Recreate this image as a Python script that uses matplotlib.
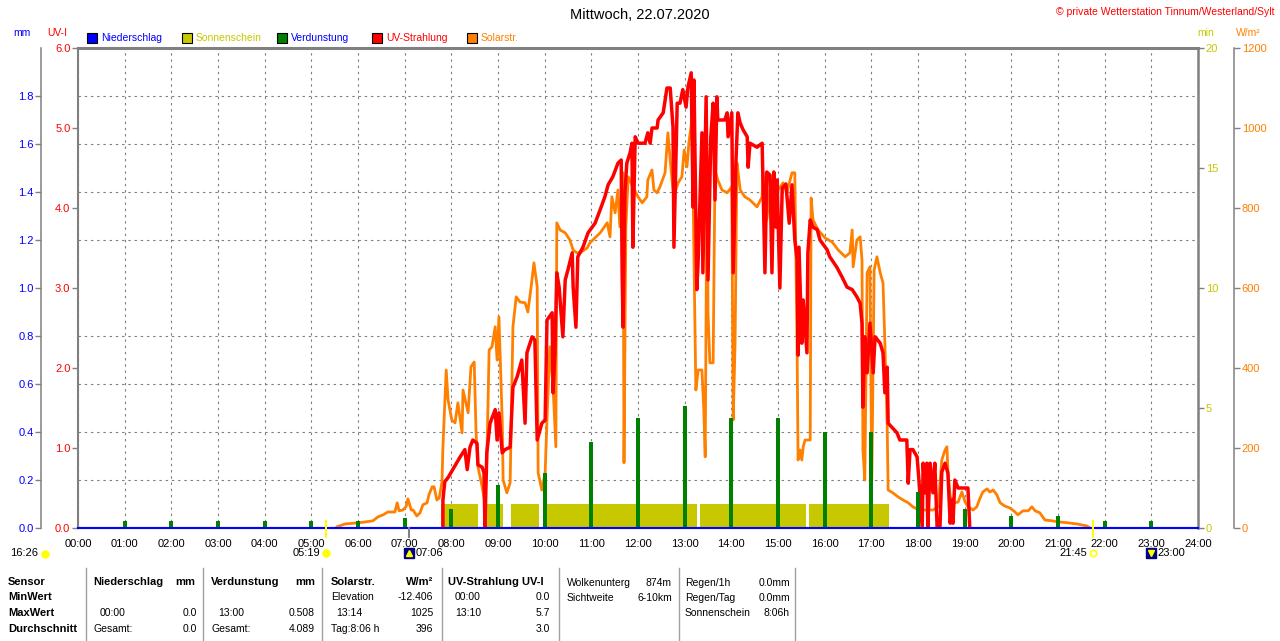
import numpy as np
import matplotlib
matplotlib.use("Agg")
import matplotlib.pyplot as plt
from matplotlib.patches import Rectangle
from matplotlib.lines import Line2D
from matplotlib.ticker import FixedLocator, FormatStrFormatter
from matplotlib.transforms import blended_transform_factory

plt.rcParams['font.family'] = ['Liberation Sans', 'DejaVu Sans']

# ---- Werte (Mittwoch, 22.07.2020) ----
HOURS = list(range(0, 25))
HOUR_LABELS = ["{0:02d}:00".format(h) for h in HOURS]

# Niederschlag in mm (ganzer Tag trocken)
rain_h = HOURS
rain_mm = [0.0, 0.0, 0.0, 0.0, 0.0, 0.0, 0.0, 0.0, 0.0, 0.0, 0.0, 0.0, 0.0,
           0.0, 0.0, 0.0, 0.0, 0.0, 0.0, 0.0, 0.0, 0.0, 0.0, 0.0, 0.0]

# Verdunstung in mm, je volle Stunde
evap_h = [1, 2, 3, 4, 5, 6, 7, 8, 9, 10, 11, 12, 13, 14, 15, 16, 17, 18, 19, 20, 21, 22, 23]
evap_mm = [0.03, 0.03, 0.03, 0.03, 0.03, 0.03, 0.04, 0.08, 0.18, 0.23, 0.36, 0.46,
           0.508, 0.46, 0.46, 0.40, 0.40, 0.15, 0.08, 0.05, 0.05, 0.03, 0.03]

# Sonnenschein (min pro min), Abschnitte in Stunden
sun_start = [7.78, 8.76, 9.28, 10.05, 13.33, 15.66]
sun_end = [8.57, 9.11, 9.88, 13.26, 15.60, 17.38]
sun_min = [1.0, 1.0, 1.0, 1.0, 1.0, 1.0]

# Solarstrahlung W/m2
solar_h = [5.53, 5.55, 5.72, 6.00, 6.15, 6.32, 6.43, 6.54, 6.64, 6.79, 6.84, 6.88, 6.96,
           7.03, 7.07, 7.14, 7.18, 7.26, 7.33, 7.39, 7.48, 7.52, 7.59, 7.63, 7.69, 7.74,
           7.80, 7.82, 7.89, 7.93, 8.01, 8.08, 8.14, 8.23, 8.25, 8.36, 8.42, 8.49, 8.53,
           8.57, 8.66, 8.72, 8.76, 8.81, 8.87, 8.94, 8.98, 9.02, 9.09, 9.11, 9.19, 9.26,
           9.32, 9.39, 9.47, 9.58, 9.64, 9.71, 9.77, 9.84, 9.86, 9.94, 10.01, 10.05, 10.11,
           10.18, 10.24, 10.26, 10.33, 10.44, 10.54, 10.61, 10.69, 10.76, 10.91, 10.97,
           11.19, 11.34, 11.40, 11.44, 11.51, 11.57, 11.61, 11.68, 11.70, 11.74, 11.79,
           11.89, 12.00, 12.09, 12.19, 12.21, 12.30, 12.34, 12.41, 12.47, 12.58, 12.64,
           12.69, 12.75, 12.79, 12.86, 12.94, 12.99, 13.05, 13.09, 13.12, 13.16, 13.20,
           13.24, 13.29, 13.37, 13.41, 13.44, 13.48, 13.50, 13.54, 13.61, 13.63, 13.65,
           13.71, 13.80, 13.91, 14.01, 14.04, 14.08, 14.12, 14.14, 14.19, 14.29, 14.40,
           14.55, 14.66, 14.68, 14.76, 14.83, 14.87, 14.94, 15.00, 15.11, 15.19, 15.30,
           15.36, 15.41, 15.43, 15.47, 15.51, 15.54, 15.58, 15.69, 15.71, 15.75, 15.86,
           16.01, 16.16, 16.29, 16.44, 16.54, 16.59, 16.61, 16.69, 16.76, 16.80, 16.82,
           16.86, 16.91, 16.97, 17.01, 17.06, 17.12, 17.19, 17.25, 17.29, 17.34, 17.36,
           17.46, 17.57, 17.68, 17.79, 17.89, 18.02, 18.19, 18.32, 18.43, 18.51, 18.58,
           18.62, 18.64, 18.69, 18.79, 18.86, 18.94, 19.01, 19.07, 19.18, 19.26, 19.33,
           19.39, 19.48, 19.54, 19.61, 19.69, 19.76, 19.86, 19.97, 20.08, 20.14, 20.25,
           20.36, 20.44, 20.51, 20.61, 20.72, 20.87, 21.04, 21.21, 21.41, 21.62, 21.69]
solar_w = [0, 3, 10, 13, 15, 18, 28, 33, 40, 40, 63, 43, 45,
           53, 73, 45, 45, 30, 38, 58, 63, 83, 103, 103, 70, 75,
           115, 203, 395, 320, 270, 263, 313, 238, 345, 288, 403, 415, 238,
           153, 103, 63, 170, 445, 453, 503, 420, 528, 270, 120, 88, 113,
           503, 578, 565, 563, 540, 603, 663, 603, 138, 95, 138, 270, 453,
           353, 203, 763, 745, 738, 720, 695, 688, 688, 700, 713,
           738, 763, 728, 828, 788, 845, 753, 888, 163, 753, 878,
           853, 828, 813, 828, 870, 895, 845, 838, 853, 888, 988,
           920, 845, 838, 863, 878, 945, 903, 963, 990, 1025, 670,
           345, 395, 395, 295, 178, 928, 538, 413, 413, 653, 895,
           870, 845, 838, 853, 270, 463, 913, 895, 845, 828, 820,
           803, 828, 888, 770, 845, 838, 753, 845, 863, 838, 888,
           888, 438, 170, 195, 170, 203, 220, 220, 825, 770, 745,
           725, 715, 695, 678, 688, 745, 653, 720, 728, 670, 195,
           120, 638, 653, 120, 645, 678, 638, 613, 463, 253, 95,
           88, 78, 70, 63, 53, 45, 45, 45, 53, 170, 195,
           203, 145, 78, 63, 65, 90, 65, 53, 45, 53, 75,
           90, 98, 90, 95, 83, 63, 55, 50, 40, 33, 43,
           43, 53, 43, 38, 20, 18, 15, 13, 10, 5, 0]

# UV-Strahlung UV-I
uv_h = [7.82, 7.82, 7.86, 7.93, 8.01, 8.08, 8.19, 8.29, 8.34, 8.40, 8.46, 8.55, 8.57,
        8.66, 8.70, 8.72, 8.76, 8.83, 8.94, 8.98, 9.02, 9.09, 9.15, 9.26, 9.32, 9.41,
        9.51, 9.58, 9.62, 9.73, 9.79, 9.84, 9.94, 10.01, 10.05, 10.16, 10.18, 10.22,
        10.26, 10.31, 10.39, 10.44, 10.50, 10.59, 10.61, 10.67, 10.71, 10.82, 10.93,
        11.08, 11.19, 11.29, 11.36, 11.46, 11.57, 11.64, 11.66, 11.68, 11.72, 11.76,
        11.83, 11.87, 11.89, 11.94, 12.00, 12.15, 12.21, 12.26, 12.30, 12.41, 12.43,
        12.54, 12.62, 12.69, 12.75, 12.77, 12.84, 12.90, 12.96, 13.03, 13.07, 13.14,
        13.18, 13.20, 13.26, 13.29, 13.37, 13.39, 13.46, 13.50, 13.56, 13.61, 13.65,
        13.69, 13.71, 13.86, 13.91, 13.93, 14.01, 14.04, 14.10, 14.14, 14.19, 14.25,
        14.34, 14.36, 14.40, 14.55, 14.66, 14.72, 14.76, 14.83, 14.87, 14.91, 14.96,
        14.98, 15.04, 15.09, 15.17, 15.24, 15.30, 15.36, 15.41, 15.43, 15.45, 15.51,
        15.54, 15.62, 15.64, 15.69, 15.75, 15.84, 15.90, 16.05, 16.11, 16.26, 16.37,
        16.48, 16.59, 16.69, 16.76, 16.80, 16.82, 16.86, 16.91, 16.97, 17.04, 17.08,
        17.19, 17.25, 17.29, 17.34, 17.36, 17.44, 17.55, 17.61, 17.76, 17.79, 17.83,
        17.89, 17.98, 18.02, 18.09, 18.11, 18.15, 18.19, 18.21, 18.26, 18.32, 18.36,
        18.41, 18.47, 18.51, 18.58, 18.64, 18.69, 18.73, 18.75, 18.79, 18.86, 19.07, 19.11]
uv_i = [0.0, 0.35, 0.58, 0.63, 0.71, 0.78, 0.89, 0.98, 0.73, 1.01, 1.10, 1.06, 0.79,
        0.76, 0.69, 0.0, 0.94, 1.31, 1.48, 1.10, 1.44, 0.94, 0.98, 1.01, 1.76, 1.89,
        2.10, 1.31, 2.19, 2.39, 2.35, 1.10, 1.31, 1.35, 2.60, 2.69, 1.69, 2.19,
        3.19, 3.01, 2.39, 3.10, 3.23, 3.44, 3.01, 2.51, 3.39, 3.51, 3.69,
        3.81, 3.98, 4.14, 4.29, 4.39, 4.56, 4.60, 3.19, 2.51, 4.19, 4.56,
        4.69, 4.81, 3.51, 4.89, 4.81, 4.81, 4.94, 4.81, 5.00, 5.00, 5.10,
        5.19, 5.50, 5.50, 5.01, 3.51, 5.31, 5.31, 5.48, 5.26, 5.51, 5.69,
        4.01, 5.60, 2.98, 3.35, 4.94, 3.19, 5.39, 3.10, 4.89, 5.31, 4.10,
        5.39, 5.10, 5.10, 5.19, 4.89, 5.19, 3.19, 4.60, 5.19, 5.06, 4.98,
        4.89, 4.51, 4.81, 4.76, 4.81, 3.19, 4.45, 4.41, 3.19, 4.45, 3.76,
        4.35, 3.00, 4.25, 4.30, 3.81, 4.29, 3.60, 3.35, 2.16, 3.51, 2.31,
        2.85, 2.19, 3.44, 3.85, 3.76, 3.73, 3.60, 3.48, 3.39, 3.26, 3.14,
        3.01, 2.98, 2.89, 2.81, 2.56, 1.51, 2.39, 1.94, 2.56, 1.94, 2.39,
        2.31, 2.19, 1.69, 2.01, 1.31, 1.26, 1.19, 1.10, 1.10, 0.56, 0.98,
        0.98, 0.89, 0.60, 0.0, 0.81, 0.44, 0.81, 0.0, 0.81, 0.44, 0.81,
        0.0, 0.0, 0.70, 0.81, 0.69, 0.06, 0.35, 0.06, 0.60, 0.50, 0.50, 0.0]

# Sonne / Mond (Stunden) und Tageslaenge
sunrise, sunset = 5 + 19 / 60, 21 + 45 / 60
moonrise, moonset = 7 + 6 / 60, 23.0
day_length = "16:26"

# Tabelle unten
table_cells = [
    (8, 582, "Sensor", 'left', True), (8, 597, "MinWert", 'left', True),
    (8, 613, "MaxWert", 'left', True), (8, 629, "Durchschnitt", 'left', True),
    (93, 582, "Niederschlag", 'left', True), (195, 582, "mm", 'right', True),
    (211, 582, "Verdunstung", 'left', True), (315, 582, "mm", 'right', True),
    (331, 582, "Solarstr.", 'left', True), (433, 582, "W/m²", 'right', True),
    (448, 582, "UV-Strahlung UV-I", 'left', True),
    (331, 597, "Elevation", 'left', False), (433, 597, "-12.406", 'right', False),
    (455, 597, "00:00", 'left', False), (550, 597, "0.0", 'right', False),
    (100, 613, "00:00", 'left', False), (197, 613, "0.0", 'right', False),
    (218, 613, "13:00", 'left', False), (315, 613, "0.508", 'right', False),
    (336, 613, "13:14", 'left', False), (433, 613, "1025", 'right', False),
    (455, 613, "13:10", 'left', False), (550, 613, "5.7", 'right', False),
    (94, 629, "Gesamt:", 'left', False), (197, 629, "0.0", 'right', False),
    (212, 629, "Gesamt:", 'left', False), (315, 629, "4.089", 'right', False),
    (331, 629, "Tag:8:06 h", 'left', False), (433, 629, "396", 'right', False),
    (550, 629, "3.0", 'right', False),
    (567, 583, "Wolkenunterg", 'left', False), (672, 583, "874m", 'right', False),
    (567, 598, "Sichtweite", 'left', False), (672, 598, "6-10km", 'right', False),
    (685, 583, "Regen/1h", 'left', False), (790, 583, "0.0mm", 'right', False),
    (685, 598, "Regen/Tag", 'left', False), (790, 598, "0.0mm", 'right', False),
    (685, 613, "Sonnenschein", 'left', False), (790, 613, "8:06h", 'right', False),
]
table_seps = [86, 203, 322, 442, 559, 679, 795]

BLUE, YELLOW, GREEN, RED, ORANGE = '#0000FF', '#C8C800', '#008000', '#FF0000', '#FF8000'
GRAY = '#808080'
legend_items = [("Niederschlag", BLUE, BLUE, 87), ("Sonnenschein", YELLOW, YELLOW, 182),
                ("Verdunstung", GREEN, BLUE, 277), ("UV-Strahlung", RED, RED, 372),
                ("Solarstr.", ORANGE, ORANGE, 467)]

W, H = 1280, 641


def fx(x):
    return x / W


def fy(y):
    return 1 - y / H


def hhmm(t):
    return "{0:02d}:{1:02d}".format(int(t), int(round(t % 1 * 60)))


fig = plt.figure(figsize=(W / 100, H / 100), dpi=100, facecolor='white')
ax = fig.add_axes([fx(78), fy(528), 1120 / W, 480 / H])
ax.set_xlim(0, 24)

# Sonnenschein auf der min-Achse (unterste Ebene, traegt das Gitter)
ax.set_ylim(0, 20)
ax.bar(sun_start, sun_min, width=np.subtract(sun_end, sun_start), align='edge',
       color=YELLOW, linewidth=0, zorder=2)
ax.set_yticks([0, 5, 10, 15, 20])
ax.yaxis.set_minor_locator(FixedLocator([2, 4, 6, 8, 10, 12, 14, 16, 18]))
ax.set_axisbelow(True)
ax.grid(which='minor', axis='y', color=GRAY, linestyle=(0, (2.2, 3.4)), linewidth=0.8)
ax.grid(which='major', axis='x', color=GRAY, linestyle=(0, (2.2, 3.4)), linewidth=0.8)
ax.set_xticks(HOURS)
ax.set_xticklabels(HOUR_LABELS)
ax.tick_params(axis='x', length=0, pad=8, labelsize=8)

# Solarstrahlung
ax_w = ax.twinx()
ax_w.set_ylim(0, 1200)
ax_w.plot(solar_h, solar_w, color=ORANGE, lw=2.0)
ax_w.set_yticks([0, 200, 400, 600, 800, 1000, 1200])

# UV
ax_uv = ax.twinx()
ax_uv.set_ylim(0, 6)
ax_uv.plot(uv_h, uv_i, color=RED, lw=2.5)
ax_uv.set_yticks([0, 1, 2, 3, 4, 5, 6])
ax_uv.yaxis.set_major_formatter(FormatStrFormatter('%.1f'))

# Verdunstung + Niederschlag
ax_mm = ax.twinx()
ax_mm.set_ylim(0, 2.0)
ax_mm.bar(evap_h, evap_mm, width=0.08, color=GREEN, linewidth=0)
ax_mm.plot(rain_h, rain_mm, color=BLUE, lw=1.5, clip_on=False, zorder=5)
ax_mm.set_yticks([0.0, 0.2, 0.4, 0.6, 0.8, 1.0, 1.2, 1.4, 1.6, 1.8])
ax_mm.yaxis.set_major_formatter(FormatStrFormatter('%.1f'))

# Achsen anordnen (twinx setzt die Ticks der Hauptachse nach links)
ax.yaxis.tick_right()
ax_uv.yaxis.tick_left()
ax_mm.yaxis.tick_left()

for a in (ax_w, ax_uv, ax_mm):
    for s in a.spines.values():
        s.set_visible(False)
for side, lw in (('top', 2.2), ('right', 1.8), ('left', 1.5), ('bottom', 1.5)):
    ax.spines[side].set_color(GRAY)
    ax.spines[side].set_linewidth(lw)
ax_w.spines['right'].set_visible(True)
ax_w.spines['right'].set_position(('outward', 26))
ax_w.spines['right'].set_color(GRAY)
ax_w.spines['right'].set_linewidth(1.1)
ax_mm.spines['left'].set_visible(True)
ax_mm.spines['left'].set_position(('outward', 26.5))
ax_mm.spines['left'].set_color(GRAY)
ax_mm.spines['left'].set_linewidth(1.1)

tick_kw = dict(direction='out', length=4, width=1, color=GRAY, labelsize=8, pad=1.5)
ax.tick_params(axis='y', which='major', labelcolor=YELLOW, **tick_kw)
ax.tick_params(axis='y', which='minor', length=0)
ax_w.tick_params(axis='y', labelcolor=ORANGE, **tick_kw)
ax_uv.tick_params(axis='y', labelcolor=RED, **tick_kw)
ax_mm.tick_params(axis='y', labelcolor=BLUE, **tick_kw)

# Kopfzeile
fig.text(0.5, fy(15), "Mittwoch, 22.07.2020", ha='center', va='center', fontsize=10.5)
fig.text(fx(1275), fy(12), "© private Wetterstation Tinnum/Westerland/Sylt",
         ha='right', va='center', fontsize=7.5, color=RED)
fig.text(fx(22), fy(33), "mm", ha='center', va='center', fontsize=7.5, color=BLUE)
fig.text(fx(57), fy(33), "UV-I", ha='center', va='center', fontsize=7.5, color=RED)
fig.text(fx(1206), fy(33), "min", ha='center', va='center', fontsize=7.5, color=YELLOW)
fig.text(fx(1248), fy(33), "W/m²", ha='center', va='center', fontsize=7.5, color=ORANGE)

for label, box, txt, x0 in legend_items:
    fig.add_artist(Rectangle((fx(x0), fy(43)), 10 / W, 10 / H, facecolor=box,
                             edgecolor='black', lw=0.8, transform=fig.transFigure))
    fig.text(fx(x0 + 14), fy(38), label, ha='left', va='center', fontsize=7.5, color=txt)

# Sonnen- und Mondzeiten unter der Zeitachse
bt = blended_transform_factory(ax.transData, fig.transFigure)
for t in (sunrise, sunset):
    fig.add_artist(Line2D([t, t], [fy(521), fy(537)], color='#FFFF00', lw=1.5, transform=bt))
fig.add_artist(Line2D([moonrise, moonrise], [fy(528), fy(537)], color=GRAY, lw=1.5, transform=bt))

fig.text(fx(10), fy(553), day_length, ha='left', va='center', fontsize=8)
fig.add_artist(Line2D([fx(45)], [fy(554)], marker='o', ms=5, color='#FFFF00', transform=fig.transFigure))

fig.add_artist(Line2D([sunrise], [fy(553)], marker='o', ms=5, color='#FFFF00', transform=bt))
ax.annotate(hhmm(sunrise), xy=(sunrise, fy(553)), xycoords=bt, xytext=(-6, 0),
            textcoords='offset pixels', ha='right', va='center', fontsize=8)
fig.add_artist(Line2D([sunset], [fy(553)], marker='o', ms=4.5, mfc='white', mec='#FFFF00',
                      mew=1.2, transform=bt))
ax.annotate(hhmm(sunset), xy=(sunset, fy(553)), xycoords=bt, xytext=(-6, 0),
            textcoords='offset pixels', ha='right', va='center', fontsize=8)
for t, arrow in ((moonrise, '^'), (moonset, 'v')):
    fig.add_artist(Line2D([t], [fy(553)], marker='s', ms=7.5, color='#000080', transform=bt))
    fig.add_artist(Line2D([t], [fy(553)], marker=arrow, ms=4, color='#FFFF00', transform=bt))
    ax.annotate(hhmm(t), xy=(t, fy(553)), xycoords=bt, xytext=(6, 0),
                textcoords='offset pixels', ha='left', va='center', fontsize=8)

# Tabelle
for x in table_seps:
    fig.add_artist(Line2D([fx(x), fx(x)], [fy(568), fy(641)], color='#A0A0A0', lw=1,
                          transform=fig.transFigure))
for x, y, s, ha, bold in table_cells:
    fig.text(fx(x), fy(y), s, ha=ha, va='center',
             fontsize=8 if bold else 7.5, fontweight='bold' if bold else 'normal')

fig.savefig("out.png", dpi=100, facecolor='white')
